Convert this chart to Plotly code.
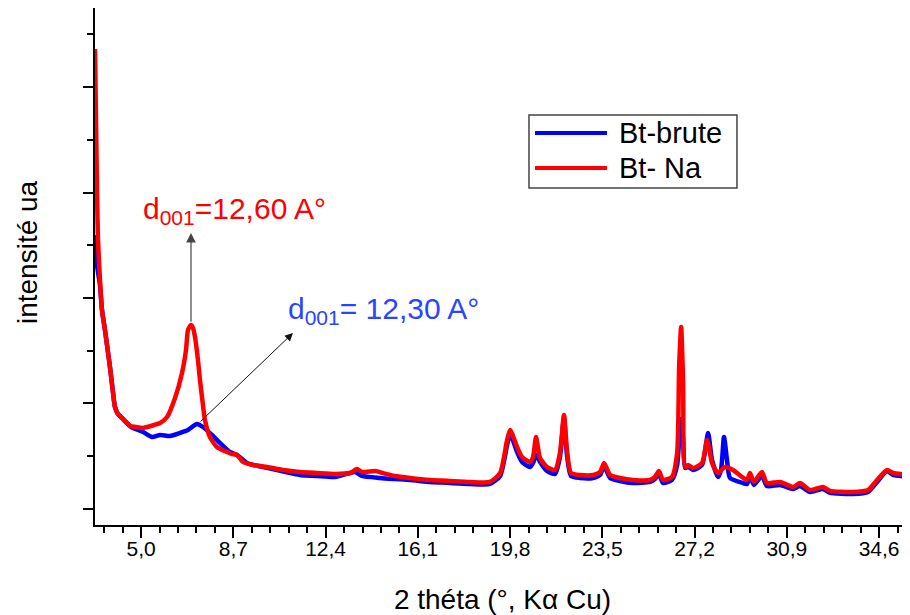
import plotly.graph_objects as go

# 2-theta values (degrees) and intensities (arbitrary units)
na_2theta = [3.15, 3.19, 3.23, 3.27, 3.35, 3.43, 3.55, 3.67, 3.75, 3.87, 3.95, 4.07, 4.23, 4.55, 4.79,
             5.04, 5.24, 5.52, 5.76, 6.04, 6.36, 6.64, 6.80, 6.88, 7.00, 7.08, 7.16, 7.28, 7.36, 7.48,
             7.56, 7.76, 8.04, 8.44, 8.65, 8.85, 9.09, 9.49, 10.05, 10.69, 11.37, 12.05, 12.78, 13.38,
             13.66, 13.86, 14.40, 14.70, 15.18, 15.79, 16.59, 17.39, 18.19, 18.99, 19.40, 19.68, 19.80,
             20.08, 20.28, 20.60, 20.72, 20.84, 21.00, 21.28, 21.60, 21.80, 21.96, 22.08, 22.24, 22.60,
             23.13, 23.41, 23.57, 23.81, 24.21, 24.73, 25.41, 25.61, 25.77, 25.93, 26.29, 26.50, 26.58,
             26.66, 26.74, 26.82, 26.94, 27.14, 27.50, 27.70, 27.90, 28.14, 28.42, 28.74, 29.30, 29.42,
             29.58, 29.90, 30.10, 30.63, 31.15, 31.43, 31.83, 32.35, 32.63, 33.55, 34.16, 34.52, 34.92,
             35.16, 35.84]
na_intensity = [4361, 3688, 3024, 2550, 2171, 1886, 1697, 1488, 1346, 1109, 967, 901, 863, 787, 777,
                768, 777, 796, 815, 872, 1052, 1289, 1507, 1697, 1744, 1716, 1631, 1412, 1223, 986,
                844, 683, 588, 540, 521, 512, 446, 417, 398, 370, 351, 341, 332, 341,
                379, 351, 360, 340, 313, 294, 275, 265, 256, 256, 341, 654, 749,
                588, 493, 446, 493, 683, 483, 398, 370, 531, 891, 559, 341, 322,
                322, 351, 436, 322, 294, 275, 275, 303, 360, 275, 303, 531, 1346,
                1725, 1194, 398, 417, 389, 436, 654, 436, 341, 398, 370, 275, 341,
                256, 351, 246, 256, 209, 246, 180, 209, 171, 161, 180, 275, 370,
                341, 322]

brute_2theta = [3.15, 3.23, 3.35, 3.43, 3.55, 3.67, 3.75, 3.87, 3.95, 4.07, 4.23, 4.55, 4.67, 5.08,
                5.44, 5.76, 6.16, 6.56, 6.88, 7.24, 7.48, 7.84, 8.16, 8.56, 8.85, 9.25, 10.05, 11.37,
                12.05, 12.78, 13.58, 13.86, 14.58, 15.18, 15.79, 16.59, 17.39, 18.19, 18.99, 19.40,
                19.68, 19.80, 20.08, 20.28, 20.60, 20.72, 20.84, 21.00, 21.28, 21.60, 21.80, 21.96,
                22.08, 22.24, 22.60, 23.13, 23.41, 23.57, 23.81, 24.21, 24.73, 25.41, 25.61, 25.77,
                25.93, 26.29, 26.50, 26.58, 26.66, 26.74, 26.82, 26.94, 27.14, 27.50, 27.74, 27.90,
                28.14, 28.26, 28.38, 28.50, 28.62, 29.14, 29.30, 29.42, 29.58, 29.90, 30.10, 30.63,
                31.15, 31.43, 31.83, 32.35, 32.63, 33.55, 34.16, 34.52, 34.92, 35.16, 35.84]
brute_intensity = [2597, 2313, 2123, 1886, 1697, 1488, 1346, 1109, 967, 901, 863, 787, 768, 730,
                   683, 702, 692, 721, 749, 806, 777, 702, 626, 540, 512, 436, 389, 322,
                   313, 303, 351, 313, 294, 284, 275, 256, 246, 237, 237, 313,
                   607, 711, 540, 446, 398, 436, 512, 446, 360, 332, 493, 863,
                   512, 313, 294, 294, 322, 408, 294, 265, 246, 256, 284, 332,
                   246, 275, 417, 654, 853, 654, 389, 398, 370, 417, 720, 464,
                   303, 370, 683, 464, 294, 246, 237, 313, 228, 313, 218, 228,
                   190, 218, 161, 190, 152, 142, 161, 256, 360, 322, 303]

x_tick_values = [5.0, 8.7, 12.4, 16.1, 19.8, 23.5, 27.2, 30.9, 34.6]
x_tick_labels = ["5,0", "8,7", "12,4", "16,1", "19,8", "23,5", "27,2", "30,9", "34,6"]

series_names = ["Bt-brute", "Bt- Na"]
series_colors = ["#0000ff", "#ff0000"]

FONT = "Arial, Liberation Sans, sans-serif"

fig = go.Figure()
fig.add_trace(go.Scatter(x=brute_2theta, y=brute_intensity, mode="lines", name=series_names[0],
                         line=dict(color=series_colors[0], width=4.5, shape="spline", smoothing=0.6)))
fig.add_trace(go.Scatter(x=na_2theta, y=na_intensity, mode="lines", name=series_names[1],
                         line=dict(color=series_colors[1], width=4.5, shape="spline", smoothing=0.6)))

# arrows
fig.add_annotation(x=7.0, y=2616, ax=7.0, ay=1760, xref="x", yref="y", axref="x", ayref="y",
                   text="", showarrow=True, arrowhead=2, arrowsize=1.6, arrowwidth=1.2,
                   arrowcolor="#444444")
fig.add_annotation(x=11.09, y=1668, ax=7.32, ay=815, xref="x", yref="y", axref="x", ayref="y",
                   text="", showarrow=True, arrowhead=2, arrowsize=1.6, arrowwidth=1,
                   arrowcolor="#111111")
# labels
fig.add_annotation(x=5.0, y=2830, xref="x", yref="y", xanchor="left", yanchor="middle",
                   text="d<sub>001</sub>=12,60 A°", showarrow=False,
                   font=dict(family=FONT, size=30, color="#ff0000"))
fig.add_annotation(x=10.8, y=1880, xref="x", yref="y", xanchor="left", yanchor="middle",
                   text="d<sub>001</sub>= 12,30 A°", showarrow=False,
                   font=dict(family=FONT, size=30, color="#2a45ff"))

# legend box (drawn to match the original's long line samples and spacing)
fig.add_shape(type="rect", xref="paper", yref="paper", x0=0.5325, x1=0.7877, y0=0.6518, y1=0.7930,
              line=dict(color="#444444", width=1.5), fillcolor="white", layer="above")
for i, (nm, col) in enumerate(zip(series_names, series_colors)):
    yy = [0.7582, 0.6905][i]
    fig.add_shape(type="line", xref="paper", yref="paper", x0=0.5399, x1=0.6282, y0=yy, y1=yy,
                  line=dict(color=col, width=4), layer="above")
    fig.add_annotation(x=0.6405, y=yy, xref="paper", yref="paper", xanchor="left", yanchor="middle",
                       text=nm, showarrow=False, font=dict(family=FONT, size=29, color="black"))

# y-axis title placed as in the original (slightly above the plot's centre)
fig.add_annotation(x=-0.0834, y=0.528, xref="paper", yref="paper", xanchor="center", yanchor="middle",
                   text="intensité ua", textangle=-90, showarrow=False,
                   font=dict(family=FONT, size=28, color="black"))

fig.update_layout(
    width=902, height=607,
    margin=dict(l=87, r=0, t=0, b=90, autoexpand=False),
    paper_bgcolor="white", plot_bgcolor="white",
    font=dict(family=FONT, color="black"),
    showlegend=False,
    xaxis=dict(range=[3.15, 35.84], showgrid=False, zeroline=False, automargin=False,
               showline=True, linecolor="black", linewidth=2,
               tickmode="array", tickvals=x_tick_values, ticktext=x_tick_labels,
               ticks="outside", ticklen=11, tickwidth=2, tickcolor="black",
               tickfont=dict(family=FONT, size=21, color="black"), ticklabelstandoff=-7,
               minor=dict(dtick=0.74, tick0=5.0, ticks="outside", ticklen=6, tickwidth=2,
                          tickcolor="black", showgrid=False),
               title=dict(text="2 théta (°, Kα Cu)", font=dict(family=FONT, size=28, color="black"),
                          standoff=30)),
    yaxis=dict(range=[-152, 4749], showgrid=False, zeroline=False, automargin=False,
               showline=True, linecolor="black", linewidth=2,
               tickmode="linear", tick0=0, dtick=1000, showticklabels=False,
               ticks="outside", ticklen=10, tickwidth=2, tickcolor="black",
               minor=dict(dtick=500, tick0=0, ticks="outside", ticklen=6, tickwidth=2,
                          tickcolor="black", showgrid=False)),
)

fig.write_html("out.html")
